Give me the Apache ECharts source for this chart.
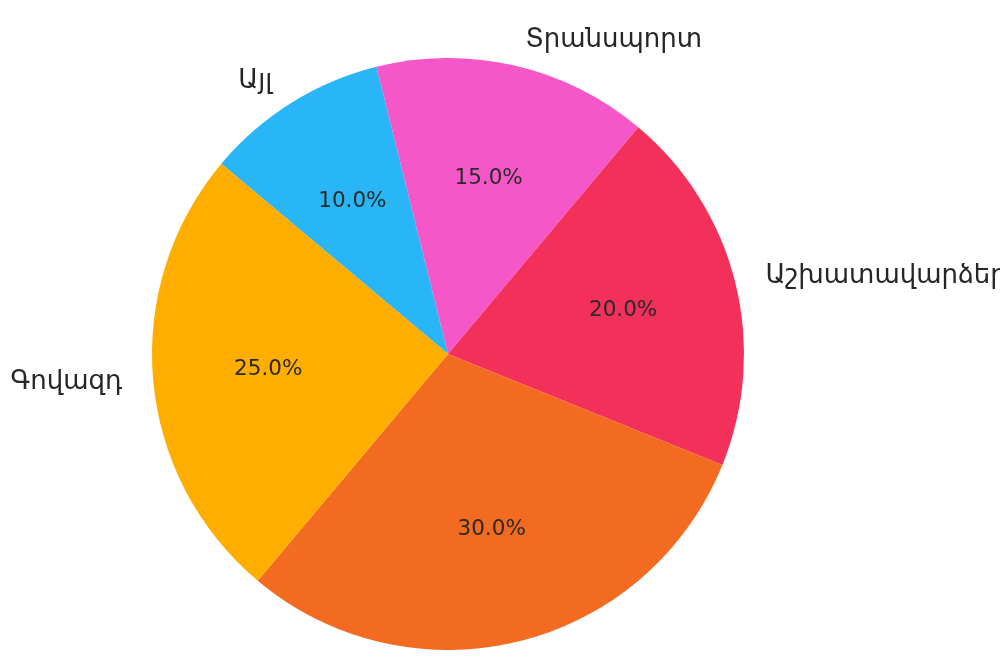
<!DOCTYPE html>
<html>
<head>
<meta charset="utf-8">
<script src="https://cdn.jsdelivr.net/npm/echarts@6/dist/echarts.min.js"></script>
<style>html,body{margin:0;padding:0;background:#fff}#c{width:1000px;height:658px}</style>
</head>
<body>
<div id="c"></div>
<script>
const categories = ['Այլ', 'Տրանսպորտ', 'Աշխատավարձեր', 'Վարձավճարներ', 'Գովազդ'];
const values = [10, 15, 20, 30, 25];
const colors = ['#29B6F6', '#F557C8', '#F2305A', '#F26B21', '#FFAE00'];

const R = 296;
const chart = echarts.init(document.getElementById('c'), null, {renderer: 'canvas'});
const data = categories.map((n, i) => ({
  name: n, value: values[i], itemStyle: {color: colors[i]},
  labelLine: {show: false, length: i === 3 ? 32 : 26, length2: 0}
}));
const total = values.reduce((a, b) => a + b, 0);
chart.setOption({
  animation: false,
  series: [
    {
      type: 'pie',
      center: [448, 354],
      radius: [0, R],
      startAngle: 140,
      clockwise: true,
      avoidLabelOverlap: false,
      silent: true,
      data: data,
      itemStyle: {borderWidth: 0},
      label: {
        show: true,
        position: 'outside',
        formatter: '{b}',
        fontFamily: 'DejaVu Sans',
        fontSize: 26,
        color: '#262626',
        width: 360,
        overflow: 'none'
      },
      labelLine: {show: false, length: 26, length2: 0}
    },
    {
      type: 'pie',
      center: [448, 354],
      radius: [148, 207],
      startAngle: 140,
      clockwise: true,
      avoidLabelOverlap: false,
      silent: true,
      data: categories.map((n, i) => ({name: n, value: values[i]})),
      itemStyle: {color: 'rgba(0,0,0,0)', borderWidth: 0},
      label: {
        show: true,
        position: 'inside',
        formatter: p => (p.value / total * 100).toFixed(1) + '%',
        fontFamily: 'DejaVu Sans',
        fontSize: 21.5,
        color: '#2a2a2a'
      },
      labelLine: {show: false}
    }
  ]
});
</script>
</body>
</html>
